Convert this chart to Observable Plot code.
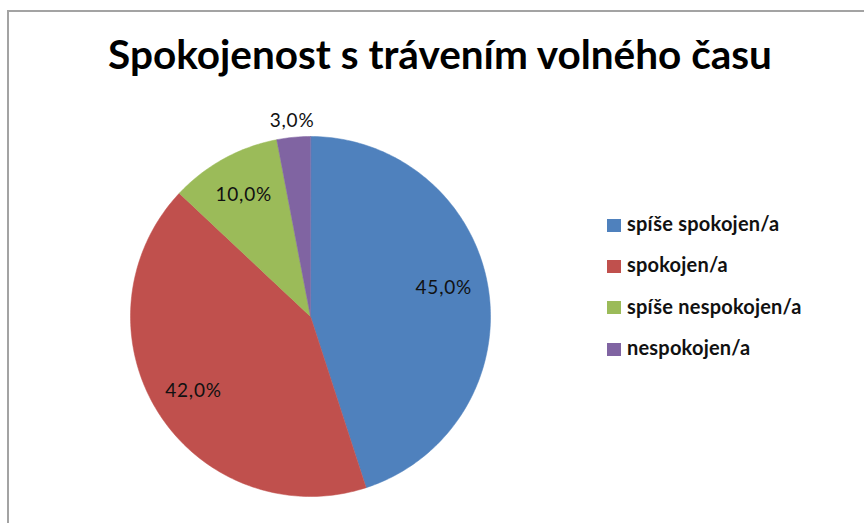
<!DOCTYPE html>
<html>
<head>
<meta charset="utf-8">
<script src="https://cdn.jsdelivr.net/npm/d3@7"></script>
<script src="https://cdn.jsdelivr.net/npm/@observablehq/plot@0.6"></script>
<style>
  html, body { margin: 0; padding: 0; background: #fff; }
  #wrap { position: relative; width: 864px; height: 523px; overflow: hidden; background: #fff; font-family: Lato, "Noto Sans", sans-serif; }
  #frame { position: absolute; left: 7px; top: 10px; width: 1000px; height: 700px; border-left: 2px solid #a3a3a3; border-top: 2px solid #a3a3a3; }
  #title { position: absolute; left: 0; top: 34px; width: 880px; text-align: center; font-size: 40.5px; line-height: 1; font-weight: 700; color: #000; white-space: nowrap; }
  #chart { position: absolute; left: 0; top: 0; }
  #legend { position: absolute; left: 607px; top: 204.5px; }
  .row { display: flex; align-items: center; height: 41.3px; margin: 0; font-size: 20px; font-weight: 700; color: #111; }
  .row .sw { width: 14px; height: 13px; margin-right: 6px; }
  .row .lbl { line-height: 1; position: relative; top: -2px; letter-spacing: 0.2px; }
</style>
</head>
<body>
<div id="wrap">
  <div id="frame"></div>
  <div id="chart"></div>
  <div id="title"></div>
  <div id="legend"></div>
</div>
<script>
const title = "Spokojenost s trávením volného času";
const categories = ["spíše spokojen/a", "spokojen/a", "spíše nespokojen/a", "nespokojen/a"];
const values = [45.0, 42.0, 10.0, 3.0];
const colors = ["#4F81BD", "#C0504D", "#9BBB59", "#8064A2"];

document.getElementById("title").textContent = title;

const arcs = d3.pie().sort(null).value(d => d)(values);
const total = d3.sum(values);

// slice polygons in unit-circle coordinates (y up), angle 0 at 12 o'clock, clockwise
const pts = [];
arcs.forEach((a, i) => {
  const cat = categories[i];
  pts.push({cat, x: 0, y: 0});
  const n = Math.max(2, Math.ceil((a.endAngle - a.startAngle) / (Math.PI / 180)));
  for (let k = 0; k <= n; k++) {
    const t = a.startAngle + (a.endAngle - a.startAngle) * k / n;
    pts.push({cat, x: Math.sin(t), y: Math.cos(t)});
  }
});

const fmt = v => d3.format(".1f")(v).replace(".", ",") + "%";
const labels = arcs.map((a, i) => {
  const mid = (a.startAngle + a.endAngle) / 2;
  const share = values[i] / total;
  const r = share < 0.05 ? 1.09 : (share > 0.44 ? 0.75 : 0.77);
  return {text: fmt(values[i]), x: r * Math.sin(mid), y: r * Math.cos(mid) + (share > 0.44 ? 0.04 : 0)};
});

const chart = Plot.plot({
  width: 864,
  height: 523,
  margin: 0,
  style: {background: "transparent", overflow: "visible", letterSpacing: "0.8px"},
  x: {domain: [-1, 1], range: [130, 490], axis: null},
  y: {domain: [-1, 1], range: [496, 136], axis: null},
  color: {domain: categories, range: colors},
  marks: [
    Plot.line(pts, {x: "x", y: "y", z: "cat", fill: "cat", stroke: "cat", strokeWidth: 0.5, curve: "linear-closed"}),
    Plot.text(labels, {x: "x", y: "y", text: "text", fontSize: 19, fill: "#111", fontFamily: "Lato, 'Noto Sans', sans-serif"})
  ]
});
document.getElementById("chart").appendChild(chart);

const legend = document.getElementById("legend");
categories.forEach((c, i) => {
  const row = document.createElement("div");
  row.className = "row";
  const sw = document.createElement("div");
  sw.className = "sw";
  sw.style.background = colors[i];
  const lbl = document.createElement("span");
  lbl.className = "lbl";
  lbl.textContent = c;
  row.appendChild(sw);
  row.appendChild(lbl);
  legend.appendChild(row);
});
</script>
</body>
</html>
